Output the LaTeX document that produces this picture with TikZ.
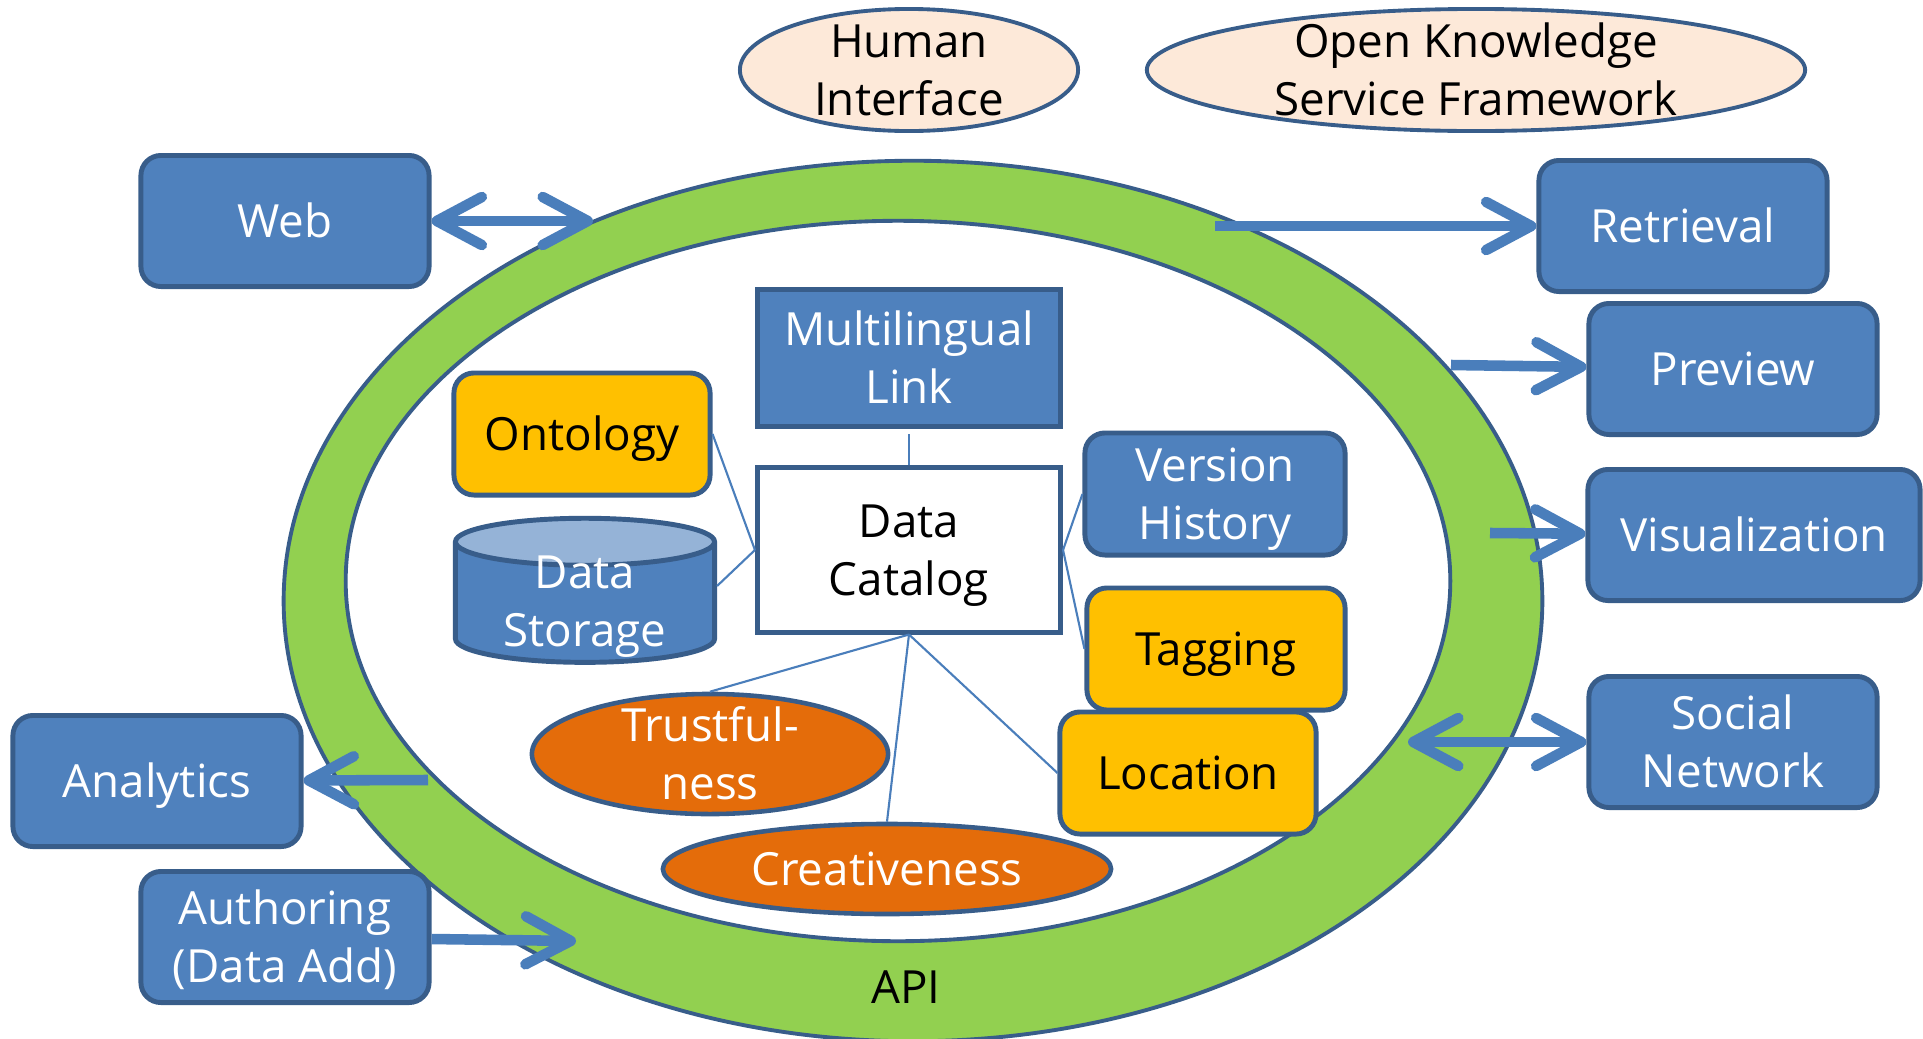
\documentclass[tikz,border=0pt]{standalone}
\usepackage{fontspec}
\setmainfont{Open Sans}
\usepackage{tikz}
\usetikzlibrary{positioning}
\usetikzlibrary{shapes.geometric,arrows.meta}
\definecolor{blu}{HTML}{4F81BD}
\definecolor{edge}{HTML}{385D8A}
\definecolor{arr}{HTML}{4A7EBB}
\definecolor{gold}{HTML}{FFC000}
\definecolor{rust}{HTML}{E46C0A}
\definecolor{lime}{HTML}{92D050}
\definecolor{peach}{HTML}{FDE9D9}
\definecolor{sky}{HTML}{95B3D7}
\newcommand{\boxfont}{\fontsize{13}{16.5}\selectfont}

\begin{document}
\begin{tikzpicture}[x=0.01cm,y=-0.01cm,font=\boxfont,
  line/.style={text height=12.9pt,text depth=3.6pt},
  twoline/.style={text height=29.4pt,text depth=3.6pt},
  box/.style={draw=edge,line width=1.4pt,fill=blu,text=white,rounded corners=0.2cm,
    minimum width=2.88cm,minimum height=1.31cm,inner xsep=2pt,inner ysep=0pt,align=center,line},
  tagbox/.style={box,fill=gold,text=black,minimum width=2.56cm,minimum height=1.22cm},
  oval/.style={draw=edge,line width=1.3pt,fill=rust,ellipse,inner sep=0pt},
  lab/.style={align=center,text=white,line},
  link/.style={draw=arr,line width=0.6pt},
  flow/.style={draw=arr,line width=3pt},
  >={Straight Barb[length=4.5mm,width=4.8mm,round]}]
\useasboundingbox (0,0) rectangle (1923,1039);
% ring
\draw[edge,line width=1.1pt,fill=lime] (913,601) ellipse [x radius=6.29cm,y radius=4.40cm];
\draw[edge,line width=1.1pt,fill=white] (898,581) ellipse [x radius=5.52cm,y radius=3.60cm];
\node[line] (api) at (906,987) {API};
% header
\node[oval,fill=peach,line width=1.1pt,minimum width=3.38cm,minimum height=1.22cm,
  label={[align=center,twoline]center:{Human\\Interface}}] (hum) at (909,70) {};
\node[oval,fill=peach,line width=1.1pt,minimum width=6.58cm,minimum height=1.22cm,
  label={[align=center,twoline]center:{Open Knowledge\\Service Framework}}] (okf) at (1476,70) {};
% outside
\node[box] (web) at (285,221) {Web};
\node[box] (ret) at (1683,226) {Retrieval};
\node[box] (pre) at (1733,369) {Preview};
\node[box,minimum width=3.32cm] (vis) at (1754,535) {Visualization};
\node[box,twoline] (soc) at (1733,742) {Social\\Network};
\node[box] (ana) at (157,781) {Analytics};
\node[box,twoline] (aut) at (285,937) {Authoring\\(Data Add)};
\coordinate (webend) at (593,221);
\coordinate (retstart) at (1215,226);
\coordinate (prestart) at (1451,365);
\coordinate (visstart) at (1490,533);
\coordinate (socend) at (1408,742);
\coordinate (anastart) at (428,780);
\coordinate (autend) at (576,941);
\draw[flow,<->] (web) -- (webend);
\draw[flow,->] (retstart) -- (ret);
\draw[flow,->] (prestart) -- (pre);
\draw[flow,->] (visstart) -- (vis);
\draw[flow,<->] (socend) -- (soc);
\draw[flow,->] (anastart) -- (ana);
\draw[flow,->] (aut) -- (autend);
% inside
\node[box,twoline,rounded corners=0pt,minimum width=3.03cm,minimum height=1.37cm] (mul) at (909,358) {Multilingual\\Link};
\node[box,twoline,fill=white,text=black,rounded corners=0pt,minimum width=3.03cm,minimum height=1.64cm] (cat) at (909,550) {Data\\Catalog};
\node[tagbox] (ont) at (582,434) {Ontology};
\node[draw=edge,line width=1.4pt,cylinder,shape border rotate=90,aspect=0.19,
  cylinder uses custom fill,cylinder body fill=blu,cylinder end fill=sky,inner sep=1pt,
  text width=2.4cm,minimum width=2.59cm,minimum height=1.44cm,
  label={[lab,twoline,yshift=0.05cm]center:{Data\\Storage}}] (sto) at (585,606) {};
\node[box,twoline,minimum width=2.6cm,minimum height=1.22cm] (ver) at (1215,494) {Version\\History};
\node[tagbox,minimum width=2.58cm] (tagg) at (1216,649) {Tagging};
\node[tagbox] (loc) at (1188,773) {Location};
\node[oval,minimum width=3.56cm,minimum height=1.2cm,label={[lab,twoline]center:{Trustful-\\ness}}] (tru) at (710,754) {};
\node[oval,minimum width=4.48cm,minimum height=0.9cm,label={[lab]center:Creativeness}] (cre) at (887,869) {};
\draw[link] ([yshift=-0.05cm]mul.south) -- (cat.north);
\draw[link] (ont.east) -- (cat.west);
\draw[link] ([yshift=0.2cm]sto.east) -- (cat.west);
\draw[link] (cat.east) -- (ver.west);
\draw[link] (cat.east) -- (tagg.west);
\draw[link] (cat.south) -- (tru.north);
\draw[link] (cat.south) -- (cre.north);
\draw[link] (cat.south) -- (loc.west);
\end{tikzpicture}
\end{document}
